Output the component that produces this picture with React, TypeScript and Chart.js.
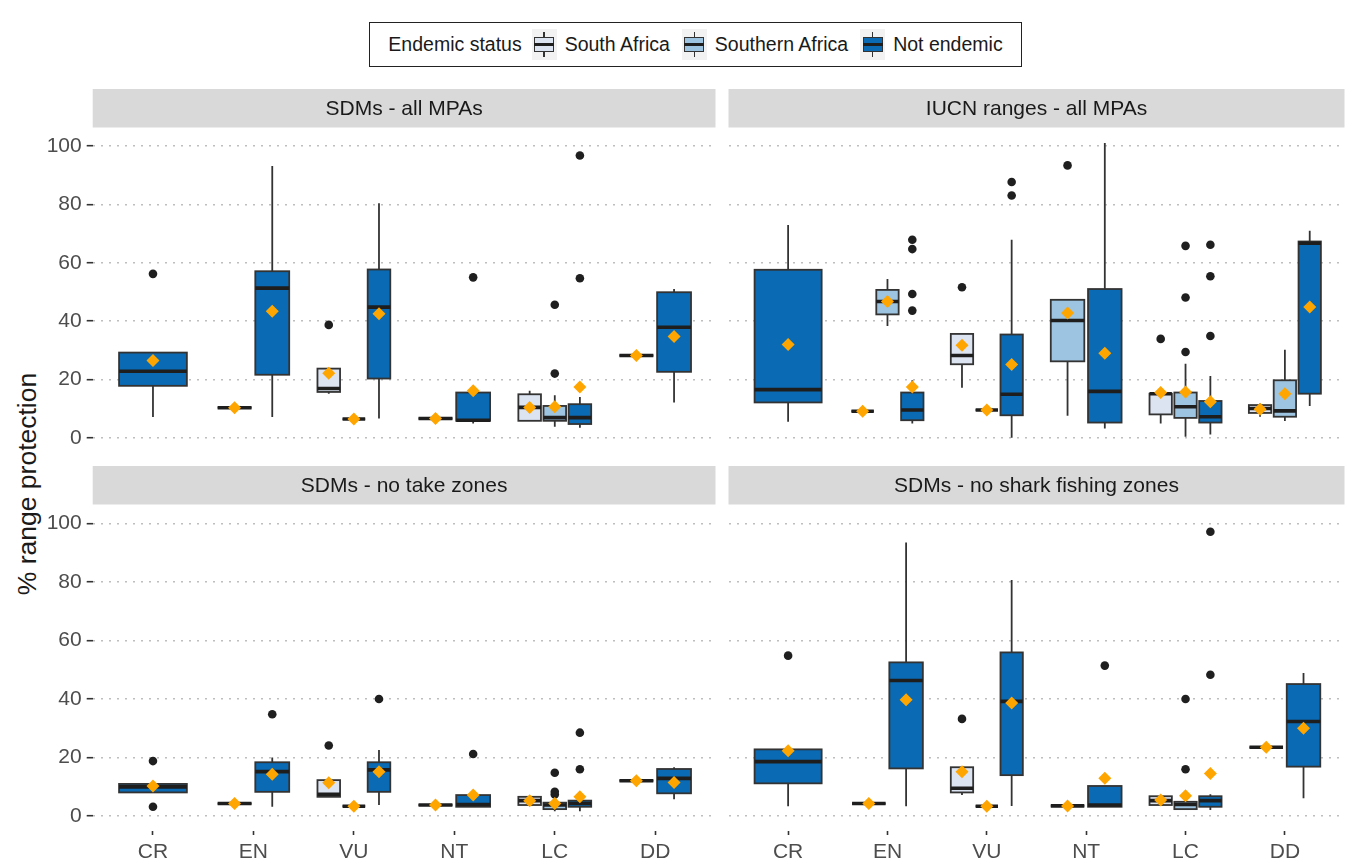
import React, { useEffect, useRef } from "react";
import { Chart, registerables } from "chart.js";

Chart.register(...registerables);

const FONT = "'Liberation Sans', Arial, Helvetica, sans-serif";

const CATEGORIES = ["CR", "EN", "VU", "NT", "LC", "DD"];
const GROUPS = ["South Africa", "Southern Africa", "Not endemic"];
const GROUP_COLORS = ["#DCE3F1", "#9DC4E1", "#0A6AB3"];
const LEGEND_TITLE = "Endemic status";
const Y_TITLE = "% range protection";
const Y_TICKS = [0, 20, 40, 60, 80, 100];
const Y_MIN = -5.07;
const Y_MAX = 106.4;

const PANEL_TITLES = [
  "SDMs - all MPAs",
  "IUCN ranges - all MPAs",
  "SDMs - no take zones",
  "SDMs - no shark fishing zones",
];

// [category, group, lower whisker, Q1, median, Q3, upper whisker, mean, outliers]
type Row = [string, string, number, number, number, number, number, number, number[]];

const SDM_ALL_MPAS: Row[] = [
  ["CR", "Not endemic", 7.1, 17.8, 22.8, 29.2, 29.2, 26.5, [56.2]],
  ["EN", "South Africa", 10.3, 10.3, 10.3, 10.3, 10.3, 10.3, []],
  ["EN", "Not endemic", 7.1, 21.6, 51.3, 57.1, 93.2, 43.4, []],
  ["VU", "South Africa", 15.1, 15.7, 16.9, 23.7, 23.7, 22.1, [38.7]],
  ["VU", "Southern Africa", 6.4, 6.4, 6.4, 6.4, 6.4, 6.4, []],
  ["VU", "Not endemic", 6.6, 20.3, 44.8, 57.7, 80.4, 42.5, []],
  ["NT", "South Africa", 6.6, 6.6, 6.6, 6.6, 6.6, 6.6, []],
  ["NT", "Not endemic", 4.9, 5.8, 6.0, 15.5, 15.5, 16.1, [55.0]],
  ["LC", "South Africa", 5.8, 5.8, 10.4, 14.9, 16.1, 10.4, []],
  ["LC", "Southern Africa", 3.8, 5.8, 6.9, 10.9, 14.6, 10.6, [22.0, 45.6]],
  ["LC", "Not endemic", 3.4, 4.7, 6.9, 11.5, 14.0, 17.4, [54.7, 96.8]],
  ["DD", "South Africa", 28.2, 28.2, 28.2, 28.2, 28.2, 28.2, []],
  ["DD", "Not endemic", 12.1, 22.6, 37.9, 49.9, 51.0, 34.7, []],
];

const IUCN_ALL_MPAS: Row[] = [
  ["CR", "Not endemic", 5.5, 12.1, 16.5, 57.6, 73.0, 32.0, []],
  ["EN", "South Africa", 9.1, 9.1, 9.1, 9.1, 9.1, 9.1, []],
  ["EN", "Southern Africa", 38.3, 42.3, 46.7, 50.7, 54.4, 46.7, []],
  ["EN", "Not endemic", 4.9, 6.0, 9.5, 15.5, 19.7, 17.4, [43.6, 49.3, 64.7, 67.9]],
  ["VU", "South Africa", 17.1, 25.2, 28.2, 35.6, 35.6, 31.7, [51.6]],
  ["VU", "Southern Africa", 9.5, 9.5, 9.5, 9.5, 9.5, 9.5, []],
  ["VU", "Not endemic", 0.0, 7.7, 14.9, 35.4, 67.9, 25.1, [83.1, 87.7]],
  ["NT", "Southern Africa", 7.5, 26.2, 40.2, 47.3, 47.3, 42.8, [93.4]],
  ["NT", "Not endemic", 3.2, 5.2, 15.9, 51.0, 101.1, 29.0, []],
  ["LC", "South Africa", 4.9, 8.0, 15.1, 15.1, 15.1, 15.5, [33.9]],
  ["LC", "Southern Africa", 0.3, 6.8, 10.6, 15.5, 25.4, 15.7, [29.4, 48.1, 65.8]],
  ["LC", "Not endemic", 1.1, 5.2, 7.2, 12.6, 21.2, 12.3, [34.9, 55.4, 66.2]],
  ["DD", "South Africa", 7.2, 8.5, 10.0, 11.2, 11.7, 9.8, []],
  ["DD", "Southern Africa", 5.7, 7.2, 9.2, 19.7, 30.2, 15.1, []],
  ["DD", "Not endemic", 10.9, 15.1, 66.7, 67.3, 71.0, 44.8, []],
];

const SDM_NO_TAKE: Row[] = [
  ["CR", "Not endemic", 8.1, 8.1, 10.0, 11.0, 11.0, 10.3, [3.2, 18.8]],
  ["EN", "South Africa", 4.3, 4.3, 4.3, 4.3, 4.3, 4.3, []],
  ["EN", "Not endemic", 3.2, 8.3, 15.2, 18.4, 20.0, 14.3, [34.8]],
  ["VU", "South Africa", 6.6, 6.6, 7.5, 12.3, 12.3, 11.4, [24.1]],
  ["VU", "Southern Africa", 3.4, 3.4, 3.4, 3.4, 3.4, 3.4, []],
  ["VU", "Not endemic", 3.8, 8.3, 15.8, 18.4, 22.6, 15.2, [40.0]],
  ["NT", "South Africa", 3.8, 3.8, 3.8, 3.8, 3.8, 3.8, []],
  ["NT", "Not endemic", 3.2, 3.2, 4.0, 7.2, 7.2, 7.2, [21.2]],
  ["LC", "South Africa", 3.8, 3.8, 5.3, 6.6, 6.6, 5.3, []],
  ["LC", "Southern Africa", 1.7, 2.4, 3.8, 4.6, 4.6, 4.3, [7.4, 8.3, 14.8]],
  ["LC", "Not endemic", 1.7, 3.2, 4.3, 5.3, 5.3, 6.6, [16.0, 28.5]],
  ["DD", "South Africa", 12.1, 12.1, 12.1, 12.1, 12.1, 12.1, []],
  ["DD", "Not endemic", 5.8, 7.8, 12.9, 16.1, 16.7, 11.5, []],
];

const SDM_NO_SHARK: Row[] = [
  ["CR", "Not endemic", 3.4, 11.2, 18.6, 22.8, 22.8, 22.3, [54.8]],
  ["EN", "South Africa", 4.3, 4.3, 4.3, 4.3, 4.3, 4.3, []],
  ["EN", "Not endemic", 3.4, 16.3, 46.3, 52.5, 93.4, 39.7, []],
  ["VU", "South Africa", 7.2, 8.1, 9.5, 16.7, 16.7, 15.2, [33.2]],
  ["VU", "Southern Africa", 3.4, 3.4, 3.4, 3.4, 3.4, 3.4, []],
  ["VU", "Not endemic", 3.5, 14.0, 39.2, 55.9, 80.6, 38.6, []],
  ["NT", "South Africa", 3.5, 3.5, 3.5, 3.5, 3.5, 3.5, []],
  ["NT", "Not endemic", 3.2, 3.2, 3.8, 10.3, 10.3, 12.9, [51.4]],
  ["LC", "South Africa", 3.8, 3.8, 5.3, 6.8, 6.8, 5.5, []],
  ["LC", "Southern Africa", 2.4, 2.4, 4.0, 4.9, 4.9, 7.0, [16.0, 40.0]],
  ["LC", "Not endemic", 2.1, 3.2, 5.3, 6.8, 7.5, 14.6, [48.3, 97.1]],
  ["DD", "South Africa", 23.5, 23.5, 23.5, 23.5, 23.5, 23.5, []],
  ["DD", "Not endemic", 6.1, 16.9, 32.3, 45.1, 48.9, 30.0, []],
];

const PANEL_DATA = [SDM_ALL_MPAS, IUCN_ALL_MPAS, SDM_NO_TAKE, SDM_NO_SHARK];

// ---- layout (styles, not data) ----
const STRIP_H = 38.5;
const LAYOUT = [
  { left: 0, top: 89, width: 722, height: 370, axisW: 92.7, padR: 6, padB: 5, showY: true, showX: false },
  { left: 722, top: 89, width: 629, height: 370, axisW: 4.7, padR: 1.5, padB: 5, showY: false, showX: false },
  { left: 0, top: 466, width: 722, height: 394, axisW: 92.7, padR: 6, padB: 0, showY: true, showX: true },
  { left: 722, top: 466, width: 629, height: 394, axisW: 4.7, padR: 1.5, padB: 0, showY: false, showX: true },
];

type BoxItem = {
  x: number; w: number; lo: number; q1: number; med: number; q3: number; hi: number;
  mean: number; outliers: number[]; color: string;
};

function buildBoxes(rows: Row[]): BoxItem[] {
  const out: BoxItem[] = [];
  CATEGORIES.forEach((cat, ci) => {
    const inCat = rows
      .filter((r) => r[0] === cat)
      .sort((a, b) => GROUPS.indexOf(a[1]) - GROUPS.indexOf(b[1]));
    const n = inCat.length;
    const slot = 0.75 / Math.max(n, 1);
    inCat.forEach((r, i) => {
      out.push({
        x: ci + 1 - 0.375 + (i + 0.5) * slot,
        w: slot * 0.9,
        lo: r[2], q1: r[3], med: r[4], q3: r[5], hi: r[6], mean: r[7], outliers: r[8],
        color: GROUP_COLORS[GROUPS.indexOf(r[1])],
      });
    });
  });
  return out;
}

function boxPlugin(items: BoxItem[]) {
  return {
    id: "boxes",
    beforeDatasetsDraw(chart: any) {
      const { ctx, chartArea: a } = chart;
      const xs = chart.scales.x;
      const ys = chart.scales.y;
      ctx.save();
      ctx.beginPath();
      ctx.rect(a.left, a.top, a.right - a.left, a.bottom - a.top);
      ctx.clip();
      for (const b of items) {
        const xc = xs.getPixelForValue(b.x);
        const half = Math.abs(xs.getPixelForValue(b.x + b.w / 2) - xc);
        const pLo = ys.getPixelForValue(b.lo);
        const pQ1 = ys.getPixelForValue(b.q1);
        const pMed = ys.getPixelForValue(b.med);
        const pQ3 = ys.getPixelForValue(b.q3);
        const pHi = ys.getPixelForValue(b.hi);
        ctx.strokeStyle = "#333333";
        ctx.lineWidth = 1.8;
        ctx.beginPath();
        ctx.moveTo(xc, pLo);
        ctx.lineTo(xc, pQ1);
        ctx.moveTo(xc, pQ3);
        ctx.lineTo(xc, pHi);
        ctx.stroke();
        ctx.fillStyle = b.color;
        ctx.fillRect(xc - half, pQ3, 2 * half, pQ1 - pQ3);
        ctx.strokeRect(xc - half, pQ3, 2 * half, pQ1 - pQ3);
        ctx.strokeStyle = "#1E1E1E";
        ctx.lineWidth = 3.6;
        ctx.beginPath();
        ctx.moveTo(xc - half, pMed);
        ctx.lineTo(xc + half, pMed);
        ctx.stroke();
      }
      ctx.restore();
    },
  };
}

function stripPlugin(title: string) {
  return {
    id: "strip",
    beforeDraw(chart: any) {
      const { ctx, chartArea: a } = chart;
      ctx.save();
      ctx.fillStyle = "#D9D9D9";
      ctx.fillRect(a.left, a.top - STRIP_H, a.right - a.left, STRIP_H);
      ctx.fillStyle = "#1A1A1A";
      ctx.font = `21px ${FONT}`;
      ctx.textAlign = "center";
      ctx.textBaseline = "middle";
      ctx.fillText(title, (a.left + a.right) / 2, a.top - STRIP_H / 2 + 1);
      ctx.restore();
    },
  };
}

function Panel({ index }: { index: number }) {
  const ref = useRef<HTMLCanvasElement | null>(null);
  const L = LAYOUT[index];
  useEffect(() => {
    if (!ref.current) return;
    const boxes = buildBoxes(PANEL_DATA[index]);
    const chart = new Chart(ref.current, {
      type: "scatter",
      data: {
        datasets: [
          {
            label: "Mean",
            data: boxes.map((b) => ({ x: b.x, y: b.mean })),
            pointStyle: "rectRot",
            pointRadius: 6.5,
            backgroundColor: "#FFA500",
            borderColor: "#FFA500",
            borderWidth: 0,
          },
          {
            label: "Outliers",
            data: boxes.flatMap((b) => b.outliers.map((v) => ({ x: b.x, y: v }))),
            pointStyle: "circle",
            pointRadius: 4.3,
            backgroundColor: "#1F1F1F",
            borderColor: "#1F1F1F",
            borderWidth: 0,
          },
        ],
      },
      options: {
        animation: false,
        responsive: false,
        devicePixelRatio: 1,
        events: [],
        layout: { padding: { top: STRIP_H, right: L.padR, bottom: L.padB, left: 0 } },
        plugins: { legend: { display: false }, tooltip: { enabled: false } },
        scales: {
          x: {
            type: "linear",
            min: 0.4,
            max: 6.6,
            display: L.showX,
            afterBuildTicks: (s: any) => {
              s.ticks = CATEGORIES.map((_, i) => ({ value: i + 1 }));
            },
            afterFit: (s: any) => {
              s.height = L.showX ? 29 : 0;
              s.paddingLeft = 0;
              s.paddingRight = 0;
              s.paddingTop = 0;
              s.paddingBottom = 0;
            },
            ticks: {
              callback: (v: any) => CATEGORIES[Math.round(Number(v)) - 1] ?? "",
              font: { size: 21, family: FONT },
              color: "#4D4D4D",
              padding: 5,
              maxRotation: 0,
              autoSkip: false,
            },
            grid: { drawOnChartArea: false, drawTicks: true, tickLength: 4, tickColor: "#333333", tickWidth: 1.6 },
            border: { display: false },
          },
          y: {
            type: "linear",
            min: Y_MIN,
            max: Y_MAX,
            afterBuildTicks: (s: any) => {
              s.ticks = Y_TICKS.map((v) => ({ value: v }));
            },
            afterFit: (s: any) => {
              s.width = L.axisW;
              s.paddingTop = 0;
              s.paddingBottom = 0;
              s.paddingLeft = 0;
              s.paddingRight = 0;
            },
            ticks: {
              display: L.showY,
              font: { size: 21, family: FONT },
              color: "#4D4D4D",
              padding: 5,
            },
            grid: {
              color: "#BEBEBE",
              lineWidth: 1.4,
              drawTicks: L.showY,
              tickLength: 6,
              tickColor: "#333333",
              tickWidth: 1.6,
              tickBorderDash: [],
            },
            border: { display: false, dash: [2, 6] },
          },
        },
      },
      plugins: [boxPlugin(boxes), stripPlugin(PANEL_TITLES[index])],
    } as any);
    return () => chart.destroy();
  }, [index]);
  return (
    <div style={{ position: "absolute", left: L.left, top: L.top, width: L.width, height: L.height }}>
      <canvas ref={ref} width={L.width} height={L.height} style={{ width: L.width, height: L.height, display: "block" }} />
    </div>
  );
}

function LegendKey({ color }: { color: string }) {
  return (
    <div style={{ position: "relative", width: 25, height: 31, background: "#F2F2F2", flex: "0 0 auto" }}>
      <div style={{ position: "absolute", left: 11.7, top: 3, width: 1.6, height: 25, background: "#333" }} />
      <div
        style={{
          position: "absolute", left: 2.5, top: 8, width: 20, height: 15,
          background: color, border: "1.6px solid #333", boxSizing: "border-box",
        }}
      />
      <div style={{ position: "absolute", left: 2.5, top: 13.8, width: 20, height: 3.4, background: "#1E1E1E" }} />
    </div>
  );
}

export default function App() {
  return (
    <div
      style={{
        position: "fixed", left: 0, top: 0, width: 1351, height: 860,
        background: "#FFFFFF", fontFamily: FONT, overflow: "hidden",
      }}
    >
      <div
        style={{
          position: "absolute", left: 369, top: 22, width: 653, height: 45, boxSizing: "border-box",
          border: "1.6px solid #222", display: "flex", alignItems: "center", justifyContent: "center",
          fontSize: 19.5, color: "#1A1A1A", whiteSpace: "nowrap",
        }}
      >
        <span style={{ marginRight: 10 }}>{LEGEND_TITLE}</span>
        {GROUPS.map((g, i) => (
          <React.Fragment key={g}>
            <LegendKey color={GROUP_COLORS[i]} />
            <span style={{ marginLeft: 8, marginRight: i < GROUPS.length - 1 ? 12 : 0 }}>{g}</span>
          </React.Fragment>
        ))}
      </div>
      <div
        style={{
          position: "absolute", left: 27, top: 484, transform: "translate(-50%, -50%) rotate(-90deg)",
          fontSize: 26.5, color: "#1A1A1A", whiteSpace: "nowrap",
        }}
      >
        {Y_TITLE}
      </div>
      {[0, 1, 2, 3].map((i) => (
        <Panel key={i} index={i} />
      ))}
    </div>
  );
}
